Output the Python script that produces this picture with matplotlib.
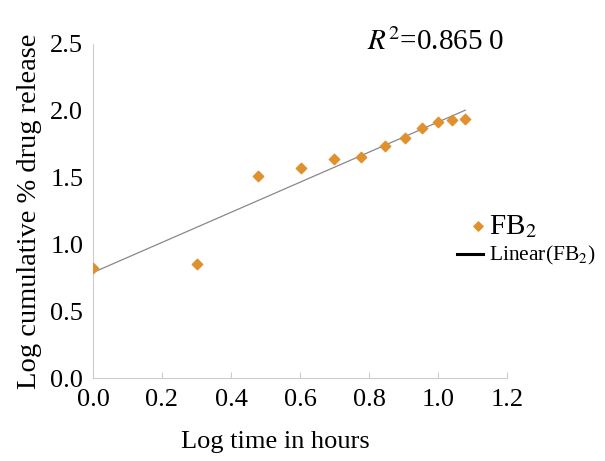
import matplotlib.pyplot as plt
import numpy as np

plt.rcParams['font.family'] = ['Liberation Serif', 'DejaVu Serif']
plt.rcParams['mathtext.fontset'] = 'stix'

log_time = [0.0, 0.301, 0.477, 0.602, 0.699, 0.778, 0.845, 0.903, 0.954, 1.0, 1.041, 1.079]
log_release = [0.823, 0.853, 1.51, 1.572, 1.639, 1.657, 1.739, 1.794, 1.869, 1.919, 1.934, 1.939]
x_ticks = [0.0, 0.2, 0.4, 0.6, 0.8, 1.0, 1.2]
y_ticks = [0.0, 0.5, 1.0, 1.5, 2.0, 2.5]

fig = plt.figure(figsize=(6.05, 4.61), dpi=100)
ax = fig.add_axes([93 / 605, 1 - 378 / 461, (507 - 93) / 605, (378 - 44) / 461])

# linear trend line
slope, intercept = np.polyfit(log_time, log_release, 1)
xx = np.array([min(log_time), max(log_time)])
ax.plot(xx, slope * xx + intercept, color='#888888', lw=0.9)
ax.scatter(log_time, log_release, marker='D', s=28, color='#e0902c', zorder=3)

ax.set_xlim(0, 1.2)
ax.set_ylim(0, 2.5)
ax.set_xticks(x_ticks)
ax.set_yticks(y_ticks)
ax.set_xticklabels(['%.1f' % v for v in x_ticks], fontsize=19)
ax.set_yticklabels(['%.1f' % v for v in y_ticks], fontsize=19)
for s in ['top', 'right']:
    ax.spines[s].set_visible(False)
for s in ['left', 'bottom']:
    ax.spines[s].set_color('#cccccc')
ax.tick_params(axis='x', direction='in', length=4, color='#cccccc', pad=8)
ax.tick_params(axis='y', length=0, pad=7)

ax.set_xlabel('Log time in hours', fontsize=19)
ax.xaxis.set_label_coords(0.44, -0.16)
ax.set_ylabel('Log cumulative % drug release', fontsize=20.5, labelpad=6)

fig.text(367 / 605, 1 - 42 / 461, '$R^2$=0.865 0', fontsize=21, va='center')

# legend placed by hand, partly outside the axes
ax.scatter([1.116], [1.138], marker='D', s=22, color='#e0902c', clip_on=False)
fig.text(489 / 605, 1 - 227 / 461, 'FB$_2$', fontsize=21, va='center')
ax.plot([1.055, 1.13], [0.928, 0.928], color='black', lw=2.2, clip_on=False)
fig.text(489 / 605, 1 - 255 / 461, 'Linear(FB$_2$)', fontsize=15.5, va='center')

fig.savefig('out.png', dpi=100)
